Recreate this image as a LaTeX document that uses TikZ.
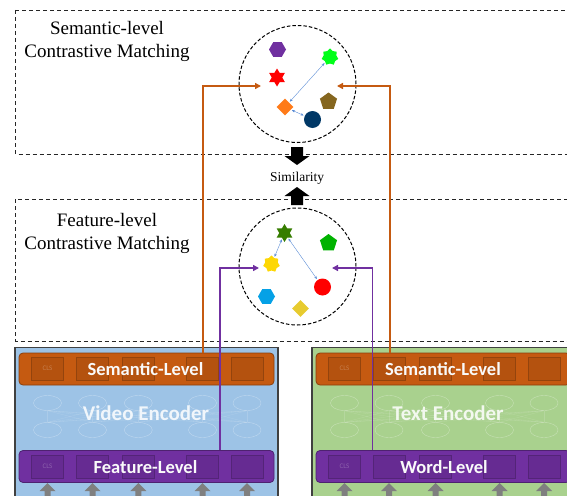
\documentclass[tikz,border=0pt]{standalone}
\usepackage{fontspec}
\setmainfont{Liberation Serif}
\newfontfamily\barfont{Carlito}
\usetikzlibrary{shapes.geometric, arrows.meta, positioning, calc}

\definecolor{semorange}{RGB}{197,90,17}
\definecolor{featpurple}{RGB}{112,48,160}
\definecolor{videoblue}{RGB}{157,195,230}
\definecolor{textgreen}{RGB}{169,209,142}
\definecolor{boxgray}{RGB}{64,64,64}
\definecolor{linkblue}{RGB}{91,140,213}
\definecolor{inputgray}{RGB}{127,127,127}

\begin{document}
\begin{tikzpicture}[x=1pt, y=-1pt,
        region/.style={draw=black!85, dash pattern=on 4pt off 3pt, line width=0.8pt},
        space/.style={circle, draw=black, dash pattern=on 3.5pt off 2pt, line width=1pt, minimum size=117pt, inner sep=0pt},
        tag/.style={align=center, font=\fontsize{19}{23}\selectfont},
        pt/.style={inner sep=0pt, draw=none},
        hexa/.style={pt, regular polygon, regular polygon sides=6, minimum size=17pt},
        penta/.style={pt, regular polygon, regular polygon sides=5, minimum size=18pt},
        spark/.style={pt, star, star points=#1, star point ratio=1.7, minimum size=18pt},
        gear/.style={pt, star, star points=7, star point ratio=1.3, minimum size=17pt},
        gem/.style={pt, diamond, minimum size=17pt},
        dot/.style={pt, circle, minimum size=17pt},
        link/.style={{Stealth[length=3pt,width=2.5pt]}-{Stealth[length=3pt,width=2.5pt]}, draw=linkblue, line width=0.4pt, shorten <=1pt, shorten >=1pt},
        semline/.style={-{Triangle[length=6pt,width=6pt]}, draw=semorange, line width=1.8pt},
        featline/.style={-{Triangle[length=6pt,width=6pt]}, draw=featpurple, line width=1.8pt},
        encoder/.style={rectangle, draw=boxgray, line width=1.6pt, inner sep=0pt, minimum height=160pt, anchor=north},
        bar/.style={rectangle, rounded corners=4pt, draw=#1!70!black, fill=#1, line width=0.8pt, minimum height=32pt, inner sep=0pt},
        barlabel/.style={text=white!96!gray, inner sep=0pt, font=\barfont\bfseries\fontsize{18.5}{20}\selectfont},
        cell/.style={rectangle, draw=#1!75!black, fill=#1!88!black, fill opacity=0.7, minimum width=32pt, minimum height=23pt, inner sep=0pt, text=white, text opacity=0.25, font=\barfont\scriptsize},
        neuron/.style={ellipse, draw=white, draw opacity=0.35, minimum width=28pt, minimum height=15pt, inner sep=0pt},
        enclabel/.style={text=white, text opacity=0.85, font=\barfont\bfseries\fontsize{21}{24}\selectfont}
    ]
        \clip (0,0) rectangle (567,495);

        % Matching regions
        \draw[region] (15.5,10) rectangle (580,154);
        \draw[region] (15.5,199) rectangle (580,341);
        \node[tag] (semtag) at (107,41) {Semantic-level\\Contrastive Matching};
        \node[tag] (feattag) at (107,233) {Feature-level\\Contrastive Matching};

        % Semantic-level space
        \node[space] (semspace) at (297.5,84) {};
        \node[hexa, fill=featpurple] (s1) at (277.5,49.5) {};
        \node[gear, fill=green!90!cyan] (s2) at (330,57) {};
        \node[spark=6, fill=red] (s3) at (277,77.5) {};
        \node[penta, fill=brown!60!olive!80!black] (s4) at (328.5,101.5) {};
        \node[gem, fill=orange!85!red!90!white] (s5) at (285,107) {};
        \node[dot, fill=blue!45!cyan!40!black] (s6) at (312.5,119.5) {};
        \draw[link] (s2) -- (s5);
        \draw[link] (s5) -- (s6);

        % Similarity
        \node[font=\fontsize{13.5}{15}\selectfont] (sim) at (297,178) {Similarity};
        \fill (291,147) -- (303,147) -- (303,156) -- (309.5,156) -- (297,165) -- (284.5,156) -- (291,156) -- cycle;
        \fill (297,187) -- (309.5,196) -- (303,196) -- (303,205) -- (291,205) -- (291,196) -- (284.5,196) -- cycle;

        % Feature-level space
        \node[space] (featspace) at (297.5,266.5) {};
        \node[spark=6, fill=green!40!olive!70!black] (f1) at (284.5,233) {};
        \node[penta, fill=green!70!black] (f2) at (328.5,243) {};
        \node[gear, fill=yellow!75!orange] (f3) at (271.5,264) {};
        \node[dot, fill=red] (f4) at (322.5,287) {};
        \node[hexa, fill=cyan!90!blue] (f5) at (266.5,296.5) {};
        \node[gem, fill=yellow!60!brown] (f6) at (300.5,308.5) {};
        \draw[link] (f1) -- (f3);
        \draw[link] (f1) -- (f4);

        % Video Encoder
        \node[encoder, fill=videoblue, minimum width=263pt] (video) at (146.5,346.5) {};
        \node[bar=semorange, minimum width=255pt] (vsem) at (146.5,369) {};
        \node[bar=featpurple, minimum width=255pt] (vfeat) at (146.5,466.5) {};
        \foreach \i/\x/\t in {1/47.5/CLS, 2/92.5/, 3/138.3/, 4/202.5/, 5/247/} {
            \node[cell=semorange] (vs\i) at (\x,368.5) {\t};
            \node[cell=featpurple] (vf\i) at (\x,466.5) {\t};
            \node[neuron] (va\i) at (\x,403) {};
            \node[neuron] (vb\i) at (\x,430) {};
            \fill[inputgray] (\x,483) -- (\x+8,491) -- (\x+3,491) -- (\x+3,497) -- (\x-3,497) -- (\x-3,491) -- (\x-8,491) -- cycle;
        }
        \foreach \i in {1,...,5} {
            \foreach \j in {1,...,5} {
                \draw[white, opacity=0.15, line width=0.3pt] (vb\i.north) -- (va\j.south);
            }
        }
        \node[barlabel] (vsemtxt) at (145.5,369.5) {Semantic-Level};
        \node[barlabel] (vfeattxt) at (145.5,467.5) {Feature-Level};
        \node[enclabel] (videotxt) at (146,413) {Video Encoder};

        % Text Encoder
        \node[encoder, fill=textgreen, minimum width=263pt] (text) at (443.5,346.5) {};
        \node[bar=semorange, minimum width=254pt] (tsem) at (443,369) {};
        \node[bar=featpurple, minimum width=254pt] (tword) at (443,466.5) {};
        \foreach \i/\x/\t in {1/344.5/CLS, 2/389/, 3/435.5/, 4/499.5/, 5/544/} {
            \node[cell=semorange] (ts\i) at (\x,368.5) {\t};
            \node[cell=featpurple] (tw\i) at (\x,466.5) {\t};
            \node[neuron] (ta\i) at (\x,403) {};
            \node[neuron] (tb\i) at (\x,430) {};
            \fill[inputgray] (\x,483) -- (\x+8,491) -- (\x+3,491) -- (\x+3,497) -- (\x-3,497) -- (\x-3,491) -- (\x-8,491) -- cycle;
        }
        \foreach \i in {1,...,5} {
            \foreach \j in {1,...,5} {
                \draw[white, opacity=0.15, line width=0.3pt] (tb\i.north) -- (ta\j.south);
            }
        }
        \node[barlabel] (tsemtxt) at (443,369.5) {Semantic-Level};
        \node[barlabel] (twordtxt) at (444,467.5) {Word-Level};
        \node[enclabel] (texttxt) at (448,413) {Text Encoder};

        % Connectors into the spaces
        \coordinate (semin1) at (261,86);
        \coordinate (semin2) at (337,86);
        \coordinate (featin1) at (259,268);
        \coordinate (featin2) at (332,268);
        \draw[semline] (vsem.north -| 203,0) |- (semin1);
        \draw[semline] (tsem.north -| 390,0) |- (semin2);
        \draw[featline] (vfeat.north -| 220,0) |- (featin1);
        \draw[featline] (tword.north -| 372.5,0) |- (featin2);
    \end{tikzpicture}
\end{document}
